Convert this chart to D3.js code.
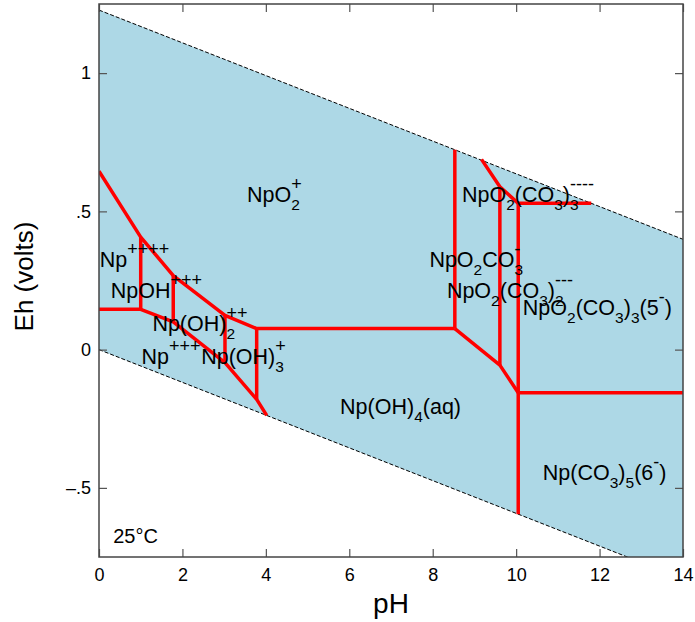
<!DOCTYPE html>
<html>
<head>
<meta charset="utf-8">
<script src="https://cdn.jsdelivr.net/npm/d3@7"></script>
<style>
  body { margin: 0; background: #fff; }
  text { font-family: "Liberation Sans", Arial, sans-serif; fill: #000; }
</style>
</head>
<body>
<div id="chart-area"></div>
<script>
// axis ticks
var xTicks = [0, 2, 4, 6, 8, 10, 12, 14];
var yTicks = [-0.5, 0, 0.5, 1];
var yTickLabels = ["\u2013.5", "0", ".5", "1"];

// water stability limits (pH, Eh)
var waterUpper = [[0, 1.228], [14, 0.399]];
var waterLower = [[0, 0], [14, -0.829]];

// predominance boundaries (pH, Eh)
var bndV_IV = [[0, 0.645], [1.0, 0.407], [1.78, 0.268], [3.02, 0.124], [3.78, 0.076], [8.53, 0.076]];
var bndIV_III = [[0, 0.146], [1.0, 0.146], [1.78, 0.100], [3.02, -0.047], [3.78, -0.180], [4.02, -0.238]];
var bndCarbLow = [[8.53, 0.076], [9.61, -0.056], [10.05, -0.156], [14, -0.156]];
var bndCarbHigh = [[9.17, 0.688], [9.61, 0.589], [10.05, 0.529], [11.8, 0.529]];
var bndVertical = [
  [[1.0, 0.407], [1.0, 0.146]],
  [[1.78, 0.268], [1.78, 0.100]],
  [[3.02, 0.124], [3.02, -0.047]],
  [[3.78, 0.076], [3.78, -0.180]],
  [[8.53, 0.723], [8.53, 0.076]],
  [[9.61, 0.589], [9.61, -0.056]],
  [[10.05, 0.529], [10.05, -0.595]]
];

// species labels: anchor (pH, Eh) and formula parts
var labels = [
  {ph: 3.55, eh: 0.534, parts: [{t: "NpO"}, {sub: "2", sup: "+"}]},
  {ph: 0.02, eh: 0.298, parts: [{t: "Np"}, {sup: "++++"}]},
  {ph: 0.28, eh: 0.186, parts: [{t: "NpOH"}, {sup: "+++"}]},
  {ph: 1.28, eh: 0.068, parts: [{t: "Np(OH)"}, {sub: "2", sup: "++"}]},
  {ph: 1.02, eh: -0.052, parts: [{t: "Np"}, {sup: "+++"}]},
  {ph: 2.45, eh: -0.052, parts: [{t: "Np(OH)"}, {sub: "3", sup: "+"}]},
  {ph: 5.78, eh: -0.234, parts: [{t: "Np(OH)"}, {sub: "4"}, {t: "(aq)"}]},
  {ph: 10.64, eh: -0.472, parts: [{t: "Np(CO"}, {sub: "3"}, {t: ")"}, {sub: "5"}, {t: "(6"}, {sup: "-"}, {t: ")"}]},
  {ph: 7.92, eh: 0.300, parts: [{t: "NpO"}, {sub: "2"}, {t: "CO"}, {sub: "3", sup: "-"}]},
  {ph: 8.34, eh: 0.186, parts: [{t: "NpO"}, {sub: "2"}, {t: "(CO"}, {sub: "3"}, {t: ")"}, {sub: "2", sup: "---"}]},
  {ph: 8.70, eh: 0.535, parts: [{t: "NpO"}, {sub: "2"}, {t: "(CO"}, {sub: "3"}, {t: ")"}, {sub: "3", sup: "----"}]},
  {ph: 10.16, eh: 0.125, parts: [{t: "NpO"}, {sub: "2"}, {t: "(CO"}, {sub: "3"}, {t: ")"}, {sub: "3"}, {t: "(5"}, {sup: "-"}, {t: ")"}]}
];

var margin = {top: 4, right: 12, bottom: 65, left: 99},
    width = 695 - margin.left - margin.right,
    height = 622 - margin.top - margin.bottom;

var svg = d3.select("#chart-area")
  .append("svg")
    .attr("width", 695)
    .attr("height", 622)
  .append("g")
    .attr("transform", "translate(" + margin.left + "," + margin.top + ")");

var x = d3.scaleLinear().domain([0, 14]).range([0, width]);
var y = d3.scaleLinear().domain([-0.75, 1.25]).range([height, 0]);

svg.append("clipPath").attr("id", "plotclip")
  .append("rect").attr("width", width).attr("height", height);

var line = d3.line()
  .x(function(d) { return x(d[0]); })
  .y(function(d) { return y(d[1]); });

var plot = svg.append("g").attr("clip-path", "url(#plotclip)");

// water stability field
plot.append("path")
  .datum(waterUpper.concat(waterLower.slice().reverse()))
  .attr("d", function(d) { return line(d) + "Z"; })
  .attr("fill", "#add8e6");

[waterUpper, waterLower].forEach(function(w) {
  plot.append("path")
    .datum(w)
    .attr("d", line)
    .attr("fill", "none")
    .attr("stroke", "#000")
    .attr("stroke-width", 1)
    .attr("stroke-dasharray", "4,2");
});

// boundaries
[bndV_IV, bndIV_III, bndCarbLow, bndCarbHigh].concat(bndVertical).forEach(function(b) {
  plot.append("path")
    .datum(b)
    .attr("d", line)
    .attr("fill", "none")
    .attr("stroke", "#ff0000")
    .attr("stroke-width", 3.5)
    .attr("stroke-linejoin", "round");
});

// axes with inward ticks
var gx = svg.append("g")
  .attr("transform", "translate(0," + height + ")")
  .call(d3.axisBottom(x).tickValues(xTicks).tickSize(-8).tickSizeOuter(0).tickPadding(11));
gx.selectAll("text").style("font-size", "18px");

svg.append("g")
  .call(d3.axisTop(x).tickValues(xTicks).tickSize(-8).tickSizeOuter(0).tickFormat(""));

var gy = svg.append("g")
  .call(d3.axisLeft(y).tickValues(yTicks).tickSize(-8).tickSizeOuter(0).tickPadding(8)
    .tickFormat(function(d, i) { return yTickLabels[i]; }));
gy.selectAll("text").style("font-size", "18px");

svg.append("g")
  .attr("transform", "translate(" + width + ",0)")
  .call(d3.axisRight(y).tickValues(yTicks).tickSize(-8).tickSizeOuter(0).tickFormat(""));

svg.selectAll(".domain").remove();
svg.selectAll(".tick line").attr("stroke", "#555").attr("stroke-width", 1.2);

svg.append("rect")
  .attr("width", width)
  .attr("height", height)
  .attr("fill", "none")
  .attr("stroke", "#444")
  .attr("stroke-width", 1.5);

// axis titles
svg.append("text")
  .attr("x", width / 2)
  .attr("y", height + 56)
  .attr("text-anchor", "middle")
  .style("font-size", "28px")
  .text("pH");

svg.append("text")
  .attr("transform", "translate(" + (-margin.left + 33) + "," + (height / 2 - 4) + ")rotate(-90)")
  .attr("text-anchor", "middle")
  .style("font-size", "26px")
  .text("Eh (volts)");

// chemical formula labels
function chem(g, px, py, parts) {
  var cx = px;
  parts.forEach(function(p) {
    if (p.t) {
      var t = g.append("text").attr("x", cx).attr("y", py).style("font-size", "21.5px").text(p.t);
      cx += t.node().getComputedTextLength();
    } else {
      var w = 0;
      if (p.sub) {
        var s = g.append("text").attr("x", cx).attr("y", py + 8).style("font-size", "15.5px").text(p.sub);
        w = Math.max(w, s.node().getComputedTextLength());
      }
      if (p.sup) {
        var u = g.append("text").attr("x", cx).attr("y", py - 12).style("font-size", "18px").text(p.sup);
        w = Math.max(w, u.node().getComputedTextLength());
      }
      cx += w;
    }
  });
}

var lg = svg.append("g");
labels.forEach(function(l) {
  chem(lg, x(l.ph), y(l.eh), l.parts);
});

svg.append("text")
  .attr("x", x(0.34))
  .attr("y", y(-0.70))
  .style("font-size", "20px")
  .text("25\u00b0C");
</script>
</body>
</html>
